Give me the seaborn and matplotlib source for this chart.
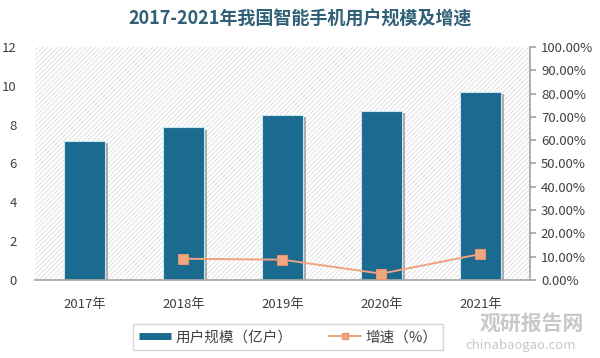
import numpy as np
import pandas as pd
import matplotlib
matplotlib.use("Agg")
import matplotlib.pyplot as plt
import matplotlib.patheffects as pe
from matplotlib.patches import Rectangle
from matplotlib.lines import Line2D
from matplotlib.ticker import PercentFormatter
import seaborn as sns

sns.set_theme(style='white')
plt.rcParams['font.family'] = ['Noto Sans CJK SC', 'DejaVu Sans']
plt.rcParams['hatch.linewidth'] = 0.5

# data
years = ['2017年', '2018年', '2019年', '2020年', '2021年']
users = [7.15, 7.85, 8.5, 8.72, 9.69]          # 亿户
growth_years = ['2018年', '2019年', '2020年', '2021年']
growth = [9.1, 8.7, 2.7, 11.1]                  # %

bar_color = '#1b6a8f'
line_color = '#eea27f'
text_color = '#404040'

df = pd.DataFrame({'year': years, 'users': users})

fig = plt.figure(figsize=(6, 3.58), dpi=100)
ax = fig.add_axes([0.058, 0.218, 0.825, 0.651])

# hatched background
ax.add_patch(Rectangle((0, 0), 1, 1, transform=ax.transAxes, facecolor='white',
                       edgecolor='#d6d6d6', hatch='///////', linewidth=0, zorder=0))

sns.barplot(data=df, x='year', y='users', order=years, color=bar_color,
            width=0.42, saturation=1, edgecolor='#c9e6f0', linewidth=0.8,
            ax=ax, zorder=2)
for p in ax.patches[1:]:
    p.set_path_effects([pe.SimplePatchShadow(offset=(2, -1.5), shadow_rgbFace='#555555', alpha=0.45),
                        pe.Normal()])

ax.set_ylim(0, 12)
ax.set_yticks(range(0, 13, 2))
ax.set_xlim(-0.5, len(years) - 0.5)
ax.set_xlabel('')
ax.set_ylabel('')
for s in ['top', 'left', 'right']:
    ax.spines[s].set_visible(False)
ax.spines['bottom'].set_color('#a6a6a6')
ax.tick_params(axis='y', length=0, labelsize=9.5, labelcolor=text_color, pad=13)
ax.tick_params(axis='x', length=0, labelsize=9.5, labelcolor=text_color, pad=13)

# growth line on right axis
ax2 = ax.twinx()
gx = [years.index(y) for y in growth_years]
sns.lineplot(x=gx, y=growth, ax=ax2, color=line_color, marker='s', markersize=7,
             markeredgecolor='#e8956c', markerfacecolor='#f0a883', linewidth=1.4, zorder=3)
ax2.set_ylim(0, 100)
ax2.set_yticks(range(0, 101, 10))
ax2.yaxis.set_major_formatter(PercentFormatter(decimals=2))
for s in ['top', 'left', 'bottom']:
    ax2.spines[s].set_visible(False)
ax2.spines['right'].set_color('#a6a6a6')
ax2.tick_params(axis='y', direction='out', length=4, color='#a6a6a6', labelsize=9.5,
                labelcolor=text_color, pad=4)

fig.text(0.5, 0.948, '2017-2021年我国智能手机用户规模及增速', ha='center', va='center',
         fontsize=13, fontweight='bold', color='#2f6075')

# watermark (drawn under the legend)
fig.text(0.80, 0.098, '观研报告网', fontsize=15, fontweight='bold', color='#c8c8c8',
         ha='left', va='center', zorder=0)
fig.text(0.775, 0.035, 'chinabaogao.com', fontsize=9.5, color='#c8c8c8',
         ha='left', va='center', zorder=0)

handles = [Line2D([0], [0], color=bar_color, linewidth=5, solid_capstyle='butt'),
           Line2D([0], [0], color=line_color, marker='s', markersize=5,
                  markerfacecolor='#f0a883', markeredgecolor='#e8956c', linewidth=1.4)]
labels = ['用户规模（亿户）', '增速（%）']
leg = fig.legend(handles, labels, loc='center', bbox_to_anchor=(0.48, 0.058), ncol=2,
                 frameon=True, fontsize=10.5, handlelength=2.2, handletextpad=0.3,
                 columnspacing=2.5, fancybox=False, edgecolor='#d0d0d0', borderpad=0.4,
                 framealpha=0.85)
for t in leg.get_texts():
    t.set_color(text_color)

fig.savefig('out.png', dpi=100)
